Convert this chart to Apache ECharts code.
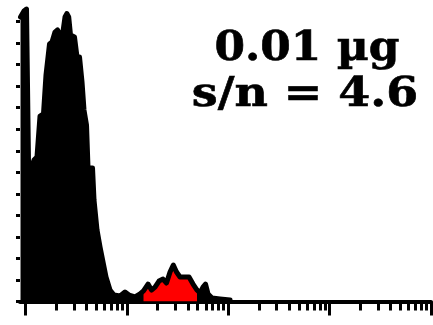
<!DOCTYPE html>
<html>
<head>
<meta charset="utf-8">
<script src="https://cdn.jsdelivr.net/npm/echarts@6/dist/echarts.min.js"></script>
<style>
html,body{margin:0;padding:0;background:#fff;}
#chart{width:433px;height:325px;}
</style>
</head>
<body>
<div id="chart"></div>
<script>
// Fluorescence intensity (log x axis) and event counts (y axis)
const fluor = [0.893, 0.966, 1.023, 1.070, 1.133, 1.213, 1.298, 1.390, 1.505, 1.593, 1.725, 1.826, 1.954, 2.069, 2.190, 2.317, 2.453, 2.556, 2.668, 2.779, 3.043, 3.221, 3.410, 3.609, 3.776, 3.998, 4.137, 4.581, 4.740, 5.075, 5.433, 5.815, 6.226, 6.817, 7.464, 8.556, 9.583, 10.50, 12.03, 13.48, 14.59, 16.17, 17.50, 18.95, 20.75, 22.72, 24.60, 26.65, 28.71, 30.87, 33.43, 37.45, 41.02, 44.93, 49.19, 52.66, 56.37, 59.67, 63.16, 69.16, 82.94, 104.1];
const counts = [132.1, 134.9, 135.8, 65.7, 59.7, 65.7, 67.1, 86.1, 87.1, 105.2, 119.6, 120.5, 125.1, 126.1, 124.2, 123.7, 132.1, 133.7, 132.1, 123.7, 122.8, 113.5, 113.5, 101.9, 88.9, 81.9, 62.0, 62.0, 47.1, 33.2, 25.3, 18.3, 11.4, 5.3, 3.0, 2.6, 4.4, 3.0, 2.1, 3.5, 4.9, 8.1, 5.3, 6.7, 9.5, 10.4, 8.6, 13.7, 16.9, 13.7, 11.4, 11.4, 11.4, 8.1, 5.3, 3.9, 6.7, 8.1, 3.5, 1.6, 1.2, 0.7];
// positive gate (red region)
const gate = [14.5, 50];
// axis ticks
const decades = [1, 10, 100, 1000, 10000];
const minorMultipliers = [2, 3, 4, 5, 6, 7, 8, 9];
const yTicks = [0, 10, 20, 30, 40, 50, 60, 70, 80, 90, 100, 110, 120, 130];
const labelLine1 = '0.01 µg';
const labelLine2 = 's/n = 4.6';

const pairs = fluor.map((f, i) => [f, counts[i]]);
const gated = pairs.filter(p => p[0] >= gate[0] && p[0] <= gate[1]);
const minorTicks = [];
decades.slice(0, -1).forEach(d => minorMultipliers.forEach(m => minorTicks.push(d * m)));

const xMin = Math.pow(10, -0.0543);
const xMax = 10000;

const chart = echarts.init(document.getElementById('chart'), null, {renderer: 'canvas'});
chart.setOption({
  animation: false,
  backgroundColor: '#fff',
  grid: {left: 20, right: 2, top: 0, bottom: 23.5, containLabel: false},
  xAxis: [
    {
      type: 'log', min: xMin, max: xMax, position: 'bottom',
      axisLine: {show: true, onZero: false, lineStyle: {color: '#000', width: 4}},
      axisTick: {show: true, customValues: decades, length: 14, lineStyle: {color: '#000', width: 3}},
      axisLabel: {show: false},
      splitLine: {show: false}, minorTick: {show: false}
    },
    {
      type: 'log', min: xMin, max: xMax, position: 'bottom',
      axisLine: {show: false, onZero: false},
      axisTick: {show: true, customValues: minorTicks, length: 9, lineStyle: {color: '#000', width: 3}},
      axisLabel: {show: false},
      splitLine: {show: false}
    }
  ],
  yAxis: {
    type: 'value', min: 0, max: 140,
    axisLine: {show: false},
    axisTick: {show: true, customValues: yTicks, length: 4, lineStyle: {color: '#000', width: 3}},
    axisLabel: {show: false},
    splitLine: {show: false}
  },
  series: [
    {
      type: 'line', data: pairs, symbol: 'none', xAxisIndex: 0,
      lineStyle: {width: 0}, areaStyle: {color: '#000', opacity: 1}, z: 2
    },
    {
      type: 'line', data: gated, symbol: 'none', xAxisIndex: 0,
      lineStyle: {width: 0}, areaStyle: {color: '#ff0000', opacity: 1}, z: 3
    },
    {
      type: 'line', data: pairs, symbol: 'none', xAxisIndex: 0,
      lineStyle: {width: 5, color: '#000', join: 'round', cap: 'round'}, z: 4
    }
  ],
  graphic: [
    {type: 'text', x: 307, y: 49, scaleX: 1.07, z: 10,
     style: {text: labelLine1, font: 'bold 41px "DejaVu Serif"', fill: '#000', stroke: '#000', lineWidth: 0.6, align: 'center', verticalAlign: 'middle'}},
    {type: 'text', x: 305, y: 95, scaleX: 1.12, z: 10,
     style: {text: labelLine2, font: 'bold 41px "DejaVu Serif"', fill: '#000', stroke: '#000', lineWidth: 0.6, align: 'center', verticalAlign: 'middle'}}
  ]
});
</script>
</body>
</html>
